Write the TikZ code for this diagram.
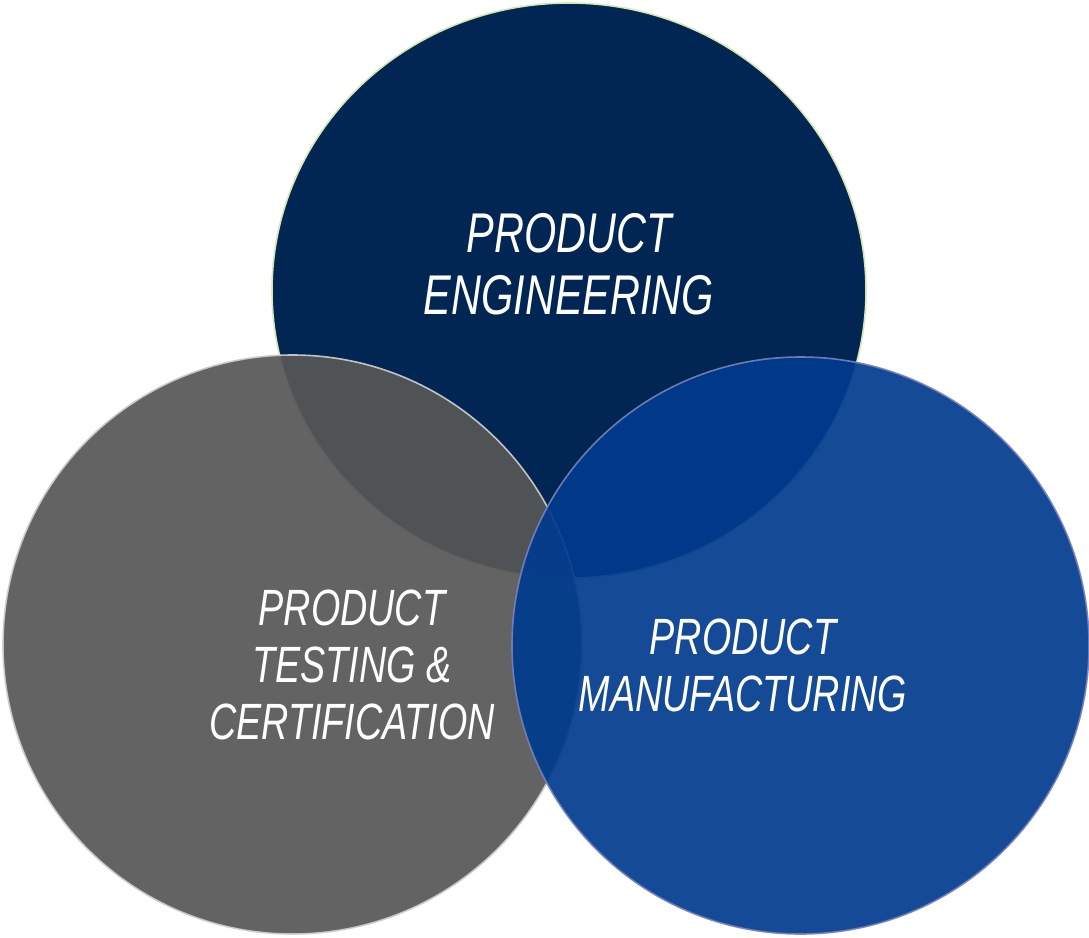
\documentclass[tikz,border=0pt]{standalone}
\usepackage{fontspec}
\newfontfamily\lblfont{Liberation Sans}[FakeStretch=0.74]
\definecolor{navy}{RGB}{1,38,84}
\definecolor{navyedge}{RGB}{214,232,176}
\definecolor{grayfill}{RGB}{87,87,87}
\definecolor{grayedge}{RGB}{205,205,205}
\definecolor{bluefill}{RGB}{0,59,142}
\definecolor{blueedge}{RGB}{120,128,184}
\tikzset{
  bubble/.style={line width=1.6pt},
  biglabel/.style={text=white, align=center, inner sep=0pt,
    font=\lblfont\itshape\fontsize{56}{62}\selectfont},
  smlabel/.style={text=white, align=center, inner sep=0pt,
    font=\lblfont\itshape\fontsize{51}{57}\selectfont}
}
\begin{document}
\begin{tikzpicture}[x=1pt,y=-1pt]
\useasboundingbox (0,0) rectangle (1089,937);
\fill[white] (0,0) rectangle (1089,937);
% top circle
\filldraw[bubble, fill=navy, draw=navyedge] (569,290.5) ellipse [x radius=297, y radius=287.5];
% left circle
\filldraw[bubble, fill=grayfill, draw=grayedge, opacity=0.925] (292.5,644.5) circle [radius=289.5];
% right circle
\filldraw[bubble, fill=bluefill, draw=blueedge, opacity=0.92] (800.5,645.5) circle [radius=288.5];
% labels
\node[biglabel] (eng) at (569,264) {PRODUCT\\ENGINEERING};
\node[smlabel] (test) at (352,665) {PRODUCT\\TESTING \&\\CERTIFICATION};
\node[smlabel] (manu) at (743,665) {PRODUCT\\MANUFACTURING};
\end{tikzpicture}
\end{document}
